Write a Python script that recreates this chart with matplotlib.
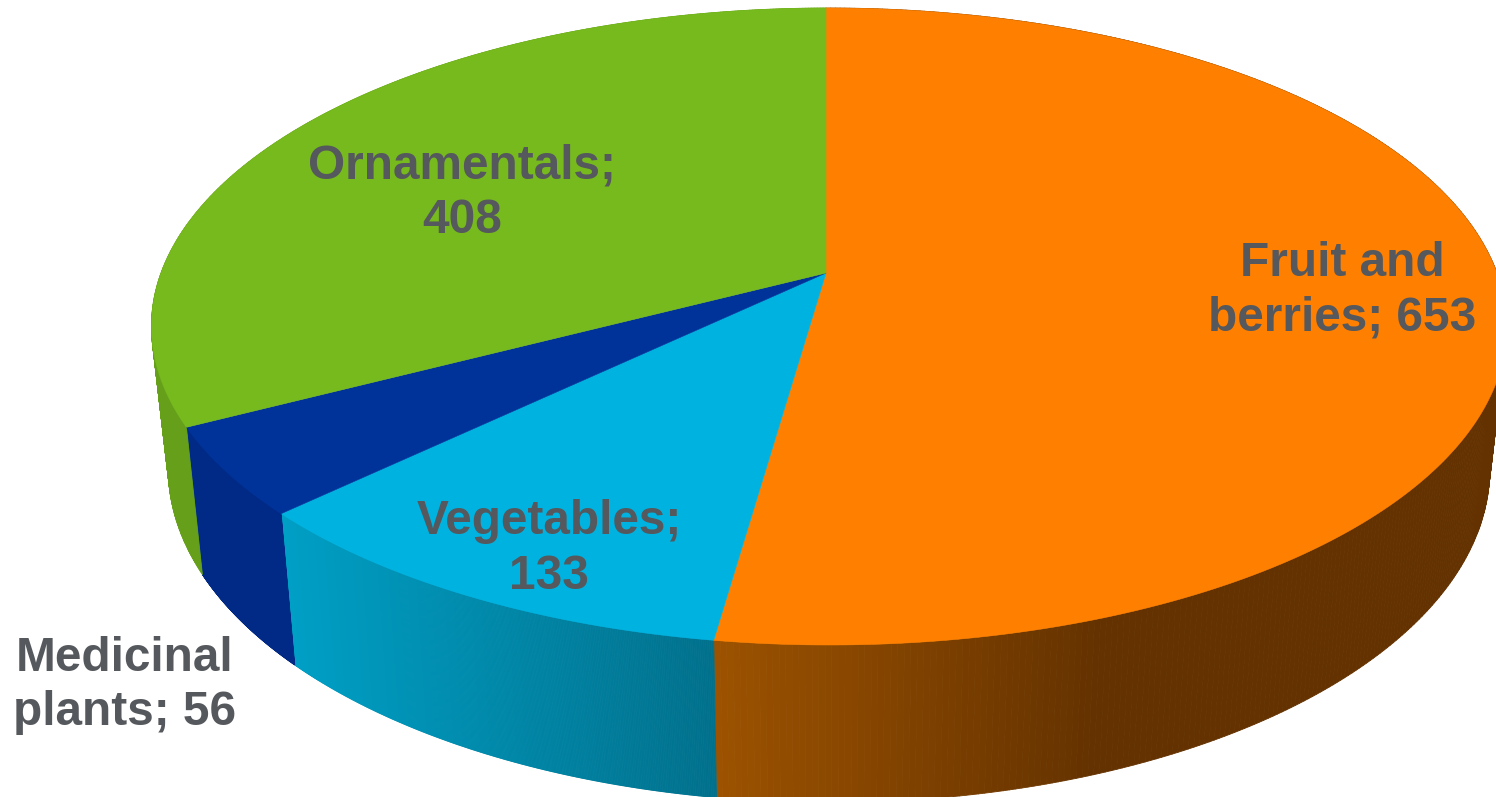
import matplotlib
matplotlib.use("Agg")
import matplotlib.pyplot as plt
import matplotlib.colors as mcolors
from matplotlib.collections import PolyCollection
from matplotlib.patches import Polygon
import numpy as np

# clockwise from 12 o'clock
categories = ["Fruit and berries", "Vegetables", "Medicinal plants", "Ornamentals"]
values = [653, 133, 56, 408]
label_formats = ["Fruit and\nberries; {}", "Vegetables;\n{}", "Medicinal\nplants; {}", "Ornamentals;\n{}"]
label_x = [1342, 549, 125, 462]
label_y = [291, 549, 685.5, 193]

top_colors = ["#FF8000", "#00B2E0", "#003399", "#76BA1E"]
# wall colour at the left and right end of the ramp, ramp limits in x
wall_ramps = [("#9C5200", "#643200", 715, 1100),
              ("#009FC5", "#00708C", 282, 715),
              ("#002A85", "#002A85", 0, 1),
              ("#66A01A", "#66A01A", 0, 1)]
text_color = "#55585C"

# tilted disc: pixel position of the centre plus the perspective terms
cx, cy = 826, 273
k = 0.168
m = -0.0045
dx, dy = 668, 309.5
# the lower rim is the upper one shifted down and slightly rescaled
rim_sx, rim_sy, rim_shift = 0.975, 1.047, 140


def top_xy(theta):
    w = 1 + k * np.cos(theta) + m * np.sin(theta)
    return dx * np.sin(theta) / w, -dy * np.cos(theta) / w


def rim_top(theta):
    x, y = top_xy(theta)
    return cx + x, cy + y


def rim_bottom(theta):
    x, y = top_xy(theta)
    return cx + rim_sx * x, cy + rim_sy * y + rim_shift


fig = plt.figure(figsize=(14.96, 7.97), dpi=100)
ax = fig.add_axes([0, 0, 1, 1])
ax.set_xlim(0, 1496)
ax.set_ylim(797, 0)
ax.axis("off")

edges = np.concatenate([[0], np.cumsum(values)]) / np.sum(values) * 2 * np.pi

# walls first, the top faces cover whatever is behind them
for i in range(len(values)):
    theta = np.linspace(edges[i], edges[i + 1], 400)
    xt, yt = rim_top(theta)
    xb, yb = rim_bottom(theta)
    left, right, x0, x1 = wall_ramps[i]
    c0 = np.array(mcolors.to_rgb(left))
    c1 = np.array(mcolors.to_rgb(right))
    quads = []
    cols = []
    for j in range(len(theta) - 1):
        quads.append([(xt[j], yt[j]), (xt[j + 1], yt[j + 1]), (xb[j + 1], yb[j + 1]), (xb[j], yb[j])])
        f = np.clip(((xt[j] + xt[j + 1]) / 2 - x0) / (x1 - x0), 0, 1)
        cols.append(c0 + (c1 - c0) * f)
    ax.add_collection(PolyCollection(quads, facecolors=cols, edgecolors=cols, linewidths=0.6, zorder=1))

for i in range(len(values)):
    theta = np.linspace(edges[i], edges[i + 1], 300)
    xt, yt = rim_top(theta)
    pts = np.column_stack([np.r_[cx, xt], np.r_[cy, yt]])
    ax.add_patch(Polygon(pts, closed=True, facecolor=top_colors[i], edgecolor=top_colors[i], linewidth=0.4, zorder=2))

for fmt, v, x, y in zip(label_formats, values, label_x, label_y):
    ax.text(x, y, fmt.format(v), ha="center", va="center", ma="center", fontsize=34.4,
            fontweight="bold", family="Liberation Sans", color=text_color, linespacing=1.27, zorder=3)

fig.savefig("out.png", dpi=100)
